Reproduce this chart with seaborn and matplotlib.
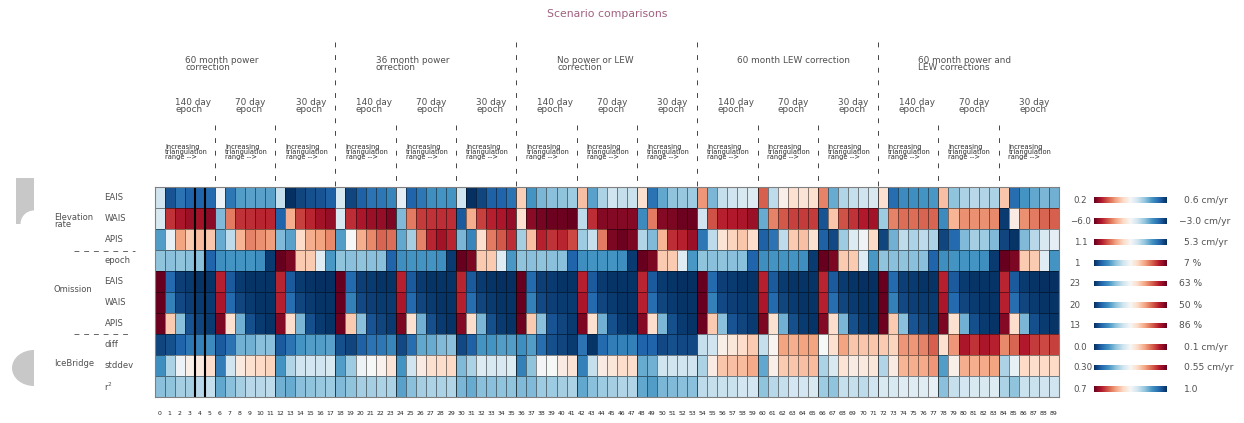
import numpy as np
import matplotlib
matplotlib.use('Agg')
import matplotlib.pyplot as plt
import seaborn as sns
from matplotlib.lines import Line2D
from matplotlib.patches import Rectangle, Circle, Ellipse
from matplotlib.transforms import Affine2D

# colour scale position of each cell, 0 = dark red, 50 = white, 100 = dark blue
elev_eais = [60,93,87,90,90,89, 53,86,78,77,77,77, 62,100,96,94,93,91,
             58,96,91,87,86,83, 55,90,86,81,80,80, 60,100,96,91,90,87,
             38,80,73,71,70,68, 35,77,66,60,62,61, 42,87,76,70,69,68,
             28,73,62,60,58,57, 20,63,47,42,43,42, 25,75,65,62,60,58,
             42,88,82,81,80,79, 35,70,66,64,65,66, 36,88,80,76,73,74]
elev_wais = [58,14,9,7,8,5, 72,24,14,13,12,12, 90,32,16,12,8,6,
             58,13,9,7,6,3, 72,24,15,14,13,13, 92,32,16,11,9,6,
             42,5,2,1,1,0, 63,13,4,4,4,4, 82,24,4,3,1,1,
             60,18,11,10,9,7, 75,25,19,16,15,15, 93,36,18,14,10,8,
             68,25,22,22,21,21, 82,33,27,27,27,26, 98,46,27,24,21,20]
elev_apis = [78,54,30,37,34,36, 75,63,33,25,27,29, 72,77,41,32,30,26,
             78,50,32,26,21,22, 76,67,25,12,8,12, 73,83,42,24,19,13,
             67,35,11,14,12,17, 68,62,24,3,1,3, 65,72,33,13,11,7,
             86,63,43,39,36,41, 91,87,63,37,35,42, 91,95,68,57,52,40,
             96,74,63,66,63,66, 96,89,72,67,68,72, 96,99,72,64,58,55]
omit_epoch = [70,71,70,71,71,90, 81,80,80,80,81,98, 0,3,37,37,56,79,
              70,71,70,71,71,90, 81,80,80,80,81,98, 0,3,37,37,56,79,
              70,71,70,71,71,90, 81,80,80,80,81,98, 0,3,37,37,56,79,
              70,71,70,71,71,90, 81,80,80,80,81,98, 0,3,37,37,56,79,
              70,71,70,71,71,90, 81,80,80,80,81,98, 0,3,37,37,56,80]
omit_eais = [0,89,97,98,99,99, 11,92,98,99,99,99, 12,92,98,99,100,100,
             0,89,97,98,99,99, 11,92,98,99,99,99, 12,92,98,99,100,100,
             0,89,97,98,99,99, 11,92,98,99,99,99, 12,92,98,99,100,100,
             0,89,97,98,99,99, 11,92,98,99,99,99, 12,92,98,99,100,100,
             0,89,97,98,99,99, 11,92,98,99,99,99, 12,92,98,99,100,100]
omit_wais = [0,84,95,97,98,98, 9,89,96,98,99,99, 11,88,96,98,99,99,
             0,84,95,97,98,98, 9,89,96,98,99,99, 11,88,96,98,99,99,
             0,84,95,97,98,98, 9,89,96,98,99,99, 11,88,96,98,99,99,
             0,84,95,97,98,98, 9,89,96,98,99,99, 11,88,96,98,99,99,
             0,84,95,97,98,98, 9,89,96,98,99,99, 11,88,96,98,99,99]
omit_apis = [1,37,71,93,96,98, 3,42,74,94,98,99, 4,41,73,94,98,99,
             1,37,71,93,96,98, 3,42,74,94,98,99, 4,41,73,94,98,99,
             1,37,71,93,96,98, 3,42,74,94,98,99, 4,41,73,94,98,99,
             1,37,71,93,96,98, 3,42,74,94,98,99, 4,41,73,94,98,99,
             1,37,71,93,96,98, 3,42,74,94,98,99, 4,41,73,94,98,99]
ib_diff = [96,94,90,86,84,82, 92,87,74,74,71,71, 92,87,80,78,78,77,
           94,96,91,87,86,83, 95,88,76,75,72,71, 95,91,80,80,78,78,
           81,78,88,94,96,98, 87,99,89,85,84,84, 90,90,95,94,95,95,
           62,60,47,44,41,37, 62,49,30,32,30,30, 50,42,30,36,36,36,
           37,39,28,28,25,20, 42,28,9,14,9,11, 26,21,10,15,17,16]
ib_stddev = [81,66,53,47,45,41, 85,60,45,42,40,39, 80,65,60,59,60,58,
             78,68,53,50,48,43, 80,60,46,42,41,40, 72,66,57,58,58,57,
             84,70,51,50,46,43, 84,62,46,44,41,41, 75,74,60,60,60,60,
             66,46,36,35,34,31, 76,47,37,36,35,34, 66,58,43,46,45,44,
             65,46,33,32,31,28, 78,47,32,32,31,30, 66,54,40,41,40,40]
ib_r2 = [71,70,67,67,64,62, 76,71,67,64,64,63, 74,75,71,70,69,68,
         72,70,67,67,66,66, 77,71,67,66,66,65, 73,75,71,71,70,70,
         72,72,68,68,67,66, 76,71,68,67,65,65, 76,78,73,72,71,71,
         63,62,61,61,59,59, 70,64,62,59,59,58, 68,70,62,62,63,60,
         58,58,56,56,56,54, 71,62,59,58,58,57, 66,70,61,61,60,60]

row_labels = ['EAIS', 'WAIS', 'APIS', 'epoch', 'EAIS', 'WAIS', 'APIS', 'diff', 'stddev', 'r$^2$']
col_labels = [str(i) for i in range(90)]
scenarios = ['60 month power\ncorrection', '36 month power\norrection', 'No power or LEW\ncorrection',
             '60 month LEW correction', '60 month power and\nLEW corrections']
epochs = ['140 day\nepoch', '70 day\nepoch', '30 day\nepoch']
bar_low = ['0.2', '\u22126.0', '1.1', '1', '23', '20', '13', '0.0', '0.30', '0.7']
bar_high = ['0.6 cm/yr', '\u22123.0 cm/yr', '5.3 cm/yr', '7 %', '63 %', '50 %', '86 %',
            '0.1 cm/yr', '0.55 cm/yr', '1.0']

W, H = 1244, 423
GREY = '#505050'
cmap = sns.color_palette('RdBu', as_cmap=True)

fig = plt.figure(figsize=(W / 100, H / 100), dpi=100)
pix = Affine2D().scale(1, -1).translate(0, H)  # image pixels, y going down


def label(x, y, s, size=6.4, **kw):
    kw.setdefault('color', GREY)
    kw.setdefault('linespacing', 0.75)
    fig.text(x, y, s, fontsize=size, transform=pix, va='center', **kw)


def dashes(x0, y0, x1, y1, color='#444444', lw=0.7, ls=(0, (5, 8))):
    fig.add_artist(Line2D([x0, x1], [y0, y1], transform=pix, color=color, lw=lw, ls=ls))


# main grid
LEFT, RIGHT, TOP, BOTTOM = 154.5, 1059, 187, 397
ax = fig.add_axes([LEFT / W, 1 - BOTTOM / H, (RIGHT - LEFT) / W, (BOTTOM - TOP) / H])
grid = np.array([elev_eais, elev_wais, elev_apis, omit_epoch, omit_eais, omit_wais,
                 omit_apis, ib_diff, ib_stddev, ib_r2])
sns.heatmap(grid, ax=ax, cmap=cmap, vmin=0, vmax=100, cbar=False, linewidths=0.6, linecolor=(0, 0, 0, 0.45),
            xticklabels=col_labels, yticklabels=row_labels)
ax.tick_params(axis='both', length=0)
ax.tick_params(axis='x', labelsize=4.4, pad=10, labelcolor='#222222', labelrotation=0)
ax.tick_params(axis='y', labelsize=6.1, pad=36, labelcolor=GREY, labelrotation=0)
for t in ax.get_yticklabels():
    t.set_ha('left')
for s in ax.spines.values():
    s.set_visible(True)
    s.set_color('#808080')
    s.set_linewidth(0.8)
# every sixth column boundary is darker
ax.vlines(range(6, 90, 6), 0, 10, color='black', lw=0.4, alpha=0.7)
ax.axvline(4, color='black', lw=1.5)
ax.axvline(5, color='black', lw=1.5)

# header
label(547, 14, 'Scenario comparisons', size=7.8, color='#a0607e')
scen_x = [185, 376, 557, 737, 918]
scen_y = [64, 64, 64, 60, 64]
col_w = (RIGHT - LEFT) / 90
for k, s in enumerate(scenarios):
    label(scen_x[k], scen_y[k], s)
    for j, e in enumerate(epochs):
        label(175 + 60.3 * j + 180.9 * k, 106, e)
        label(165 + 60.3 * j + 180.7 * k, 152, 'Increasing\ntriangulation\nrange -->', size=4.8, color='#2a2a2a')
    if k:
        dashes(LEFT + 18 * k * col_w, 42, LEFT + 18 * k * col_w, 187)
    for j in (1, 2):
        x = LEFT + (18 * k + 6 * j) * col_w
        dashes(x, 125, x, 187)

# left side
label(54, 221, 'Elevation\nrate', size=6)
label(54, 289, 'Omission', size=6)
label(54, 363, 'IceBridge', size=6)
dashes(74, 250.7, 135, 250.7, color='#666666', ls=(0, (5, 5)))
dashes(74, 334, 131, 334, color='#666666', ls=(0, (5, 5)))

fig.add_artist(Rectangle((16, 178), 18, 46, transform=pix, color='#c8c8c8', lw=0))
fig.add_artist(Circle((34, 224), 13.5, transform=pix, color='white', lw=0))
blob = Ellipse((34, 368), 44, 36, transform=pix, color='#c8c8c8', lw=0)
fig.add_artist(blob)
blob.set_clip_path(Rectangle((12, 350), 22, 36, transform=pix))

# colour bars at the right
bar_y = [200, 221, 242, 263, 283.5, 305, 325.5, 347, 367.5, 389]
bar_flip = [False, False, False, True, True, True, True, True, True, False]
low_x = [1073, 1070, 1074, 1074, 1069, 1069, 1069, 1073, 1073, 1073]
high_x = [1184, 1179, 1184, 1184, 1179, 1179, 1179, 1184, 1184, 1184]
for i, y in enumerate(bar_y):
    cax = fig.add_axes([1094 / W, 1 - (y + 2.75) / H, 73 / W, 5.5 / H])
    ramp = np.linspace(0, 1, 256)[None, :]
    cax.imshow(ramp[:, ::-1] if bar_flip[i] else ramp, cmap=cmap, aspect='auto')
    cax.set_axis_off()
    label(low_x[i], y, bar_low[i], size=6.2)
    label(high_x[i], y, bar_high[i], size=6.6)

fig.savefig('out.png', dpi=100)
